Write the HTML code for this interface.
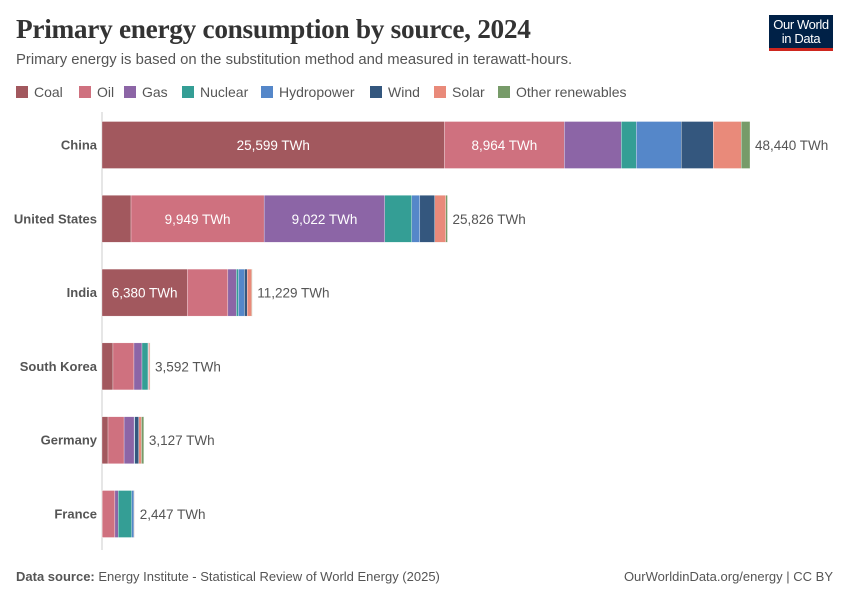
<!DOCTYPE html>
<html><head><meta charset="utf-8"><style>
body{margin:0;width:850px;height:600px;background:#fff;font-family:"Liberation Sans",sans-serif;position:relative;overflow:hidden}
.abs{position:absolute;white-space:nowrap}
#title{left:16px;top:14px;font-family:"Liberation Serif",serif;font-size:27.3px;font-weight:bold;color:#333;letter-spacing:-0.3px}
#sub{left:16px;top:52px;font-size:14.85px;color:#555}
.leg{top:84px;font-size:14px;color:#555;height:16px;line-height:16px}
.leg i{display:inline-block;width:12px;height:12px;vertical-align:-1px;margin-right:6px}
#logo{left:769px;top:15px;width:64px;background:#002147;border-bottom:3px solid #ce261e;color:#fff;font-size:13px;line-height:14px;text-align:center;padding-top:3px;box-sizing:content-box;height:30px;letter-spacing:-0.4px}
.foot{top:569px;font-size:13px;color:#555}
</style></head><body>
<div class="abs" id="title">Primary energy consumption by source, 2024</div>
<div class="abs" id="sub">Primary energy is based on the substitution method and measured in terawatt-hours.</div>
<div class="abs" id="logo">Our World<br>in Data</div>
<div id="legend"></div>
<svg id="chart" width="850" height="600" style="position:absolute;left:0;top:0"></svg>
<div class="abs foot" style="left:16px"><b>Data source:</b> Energy Institute - Statistical Review of World Energy (2025)</div>
<div class="abs foot" style="right:17px">OurWorldinData.org/energy | CC BY</div>
<script>
const countries=["China","United States","India","South Korea","Germany","France"];
const totals=[48440,25826,11229,3592,3127,2447];
const sources=["Coal","Oil","Gas","Nuclear","Hydropower","Wind","Solar","Other renewables"];
const coal=[25599,2170,6380,820,450,15];
const oil=[8964,9949,3030,1570,1200,950];
const gas=[4260,9022,640,600,750,250];
const nuclear=[1120,2020,150,450,0,1000];
const hydro=[3360,600,450,20,50,150];
const wind=[2390,1120,200,20,300,50];
const solar=[2090,820,340,100,200,30];
const other=[657,125,39,12,177,2];
const labelled=[[0,1],[1,2],[0],[],[],[]];
const colors=["#a2585e","#cf717f","#8c65a6","#349e95","#5587c9","#34577e","#e98a7a","#779b69"];
const series=[coal,oil,gas,nuclear,hydro,wind,solar,other];
const NS="http://www.w3.org/2000/svg";
const svg=document.getElementById('chart');
const x0=102,xMax=48440,xW=648;
const xs=v=>v/xMax*xW;
const yc=i=>145+i*73.8, bh=47;
const legX=[16,79,124,182,261,370,434,498];
sources.forEach((s,k)=>{const d=document.createElement('div');d.className='abs leg';d.style.left=legX[k]+'px';


d.innerHTML='<i style="background:'+colors[k]+'"></i>'+s;document.getElementById('legend').appendChild(d);});
function el(t,a){const e=document.createElementNS(NS,t);for(const k in a)e.setAttribute(k,a[k]);svg.appendChild(e);return e;}
const ax=el('line',{x1:x0,x2:x0,y1:112,y2:550,stroke:'#ccc','stroke-width':1});


countries.forEach((c,i)=>{
 const y=yc(i);
 const t=el('text',{x:97,y:y+4.5,'text-anchor':'end','font-size':13,'font-weight':'bold',fill:'#555','font-family':'Liberation Sans'});t.textContent=c;
 
 
 let acc=0;
 series.forEach((s,k)=>{
  const w=xs(s[i]);
  const r=el('rect',{x:x0+xs(acc),y:y-bh/2,width:Math.max(w,0),height:bh,fill:colors[k],stroke:'#fff','stroke-width':0.3});
  
  
  if(labelled[i].includes(k)){
   const lt=el('text',{x:x0+xs(acc)+w/2,y:y+5,'text-anchor':'middle','font-size':13.5,fill:'#fff','font-family':'Liberation Sans'});
   lt.textContent=s[i].toLocaleString('en-US')+' TWh';
   
   
  }
  acc+=s[i];
 });
 const tt=el('text',{x:x0+xs(totals[i])+5,y:y+5,'font-size':13.5,fill:'#555','font-family':'Liberation Sans'});
 tt.textContent=totals[i].toLocaleString('en-US')+' TWh';
 
 
});
</script>
</body></html>
